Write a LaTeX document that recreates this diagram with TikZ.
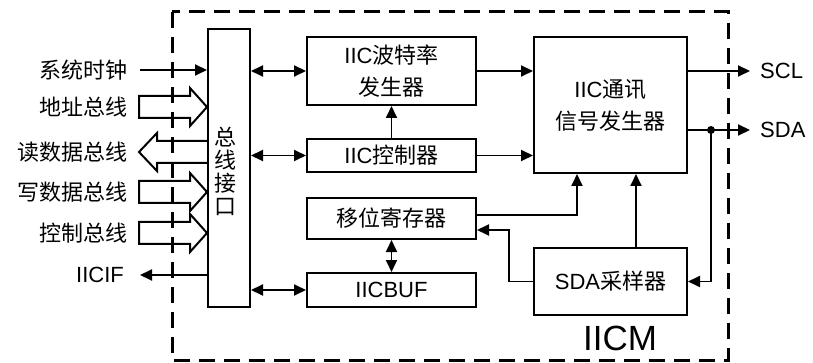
\documentclass[tikz,border=0pt]{standalone}
\usepackage{fontspec}
\setmainfont{Liberation Sans}
\newfontfamily\cjk{Noto Sans CJK SC}
\usetikzlibrary{arrows.meta}
\begin{document}
\begin{tikzpicture}[x=1pt,y=-1pt,
  blk/.style={draw,line width=2pt,inner sep=0pt,align=center,font=\fontsize{22}{32}\selectfont},
  con/.style={line width=1.9pt,-{Triangle[length=12pt,width=11pt]}},
  dcon/.style={line width=1.9pt,{Triangle[length=12pt,width=11pt]}-{Triangle[length=12pt,width=11pt]}},
  lbl/.style={inner sep=0pt,font=\fontsize{22}{32}\selectfont},
  hollow/.style={line width=2pt,line join=miter},
  rarrow/.pic={\draw[hollow] (-68,-11) -- (-17,-11) -- (-17,-19) -- (0,0) -- (-17,19) -- (-17,11) -- (-68,11) -- cycle;},
  larrow/.pic={\draw[hollow] (0,-11) -- (-50,-11) -- (-50,-19) -- (-68,0) -- (-50,19) -- (-50,11) -- (0,11);}]
\useasboundingbox (0,0) rectangle (813,363);
% outer dashed frame
\draw[line width=3pt,dash pattern=on 16pt off 9pt] (172,12) rectangle (728,360);
\node[font=\fontsize{35}{40}\selectfont,inner sep=0pt] (iicm) at (620,338) {IICM};
% blocks
\node[blk,minimum width=42pt,minimum height=278pt] (bus) at (229,168) {};
\node[lbl,align=center,font=\fontsize{22}{23}\selectfont\cjk] (bustxt) at (225,171) {总\\线\\接\\口};
\node[blk,minimum width=169pt,minimum height=68pt] (baud) at (391.5,71) {IIC{\cjk 波特率}\\{\cjk 发生器}};
\node[blk,minimum width=169pt,minimum height=33pt] (ctrl) at (391.5,155.5) {IIC{\cjk 控制器}};
\node[blk,minimum width=169pt,minimum height=41pt] (shift) at (391.5,218.5) {\cjk 移位寄存器};
\node[blk,minimum width=169pt,minimum height=34pt] (buf) at (391.5,290) {IICBUF};
\node[blk,minimum width=153pt,minimum height=136pt] (comm) at (610.5,105) {IIC{\cjk 通讯}\\{\cjk 信号发生器}};
\node[blk,minimum width=153pt,minimum height=67pt] (sdas) at (610.5,281.5) {SDA{\cjk 采样器}};
% left labels
\node[lbl,anchor=east] (clk) at (128,70) {\cjk 系统时钟};
\node[lbl,anchor=east] (addr) at (128,107) {\cjk 地址总线};
\node[lbl,anchor=east] (rd) at (128,152) {\cjk 读数据总线};
\node[lbl,anchor=east] (wr) at (128,192) {\cjk 写数据总线};
\node[lbl,anchor=east] (cb) at (128,233) {\cjk 控制总线};
\node[lbl,anchor=east] (iicif) at (124,275) {IICIF};
% left connectors
\draw[con] ([xshift=12pt]clk.east) -- (bus.west |- clk);
\pic at (bus.west |- addr) {rarrow};
\pic at (bus.west |- rd) {larrow};
\pic at (bus.west |- wr) {rarrow};
\pic at (bus.west |- cb) {rarrow};
\draw[con] (bus.west |- iicif) -- ([xshift=16pt]iicif.east);
% bus to blocks
\draw[dcon] (bus.east |- baud) -- (baud.west);
\draw[dcon] (bus.east |- ctrl) -- (ctrl.west);
\draw[dcon] (bus.east |- buf) -- (buf.west);
% internal
\draw[con] (baud.east) -- (comm.west |- baud);
\draw[con] (ctrl.east) -- (comm.west |- ctrl);
\draw[con] (ctrl.north) -- (baud.south);
\draw[dcon] (shift.south) -- (buf.north);
\draw[con] ([yshift=3.5pt]shift.east) -| ([xshift=-33.5pt]comm.south);
\draw[con] ([xshift=25.5pt]sdas.north) -- ([xshift=25.5pt]comm.south);
\coordinate (k) at (509,0);
\draw[con] (sdas.west) -- (sdas.west -| k) |- ([yshift=-11.5pt]shift.east);
% outputs
\coordinate (sclend) at (750,71);
\coordinate (sdaend) at (750,130);
\coordinate (dot) at (711,130);
\draw[con] (comm.east |- sclend) -- (sclend);
\draw[con] (comm.east |- sdaend) -- (sdaend);
\fill (dot) circle (4pt);
\draw[con] (dot) |- (sdas.east);
\node[lbl,anchor=west] (scl) at (760,71) {SCL};
\node[lbl,anchor=west] (sda) at (760,130) {SDA};
\end{tikzpicture}
\end{document}
